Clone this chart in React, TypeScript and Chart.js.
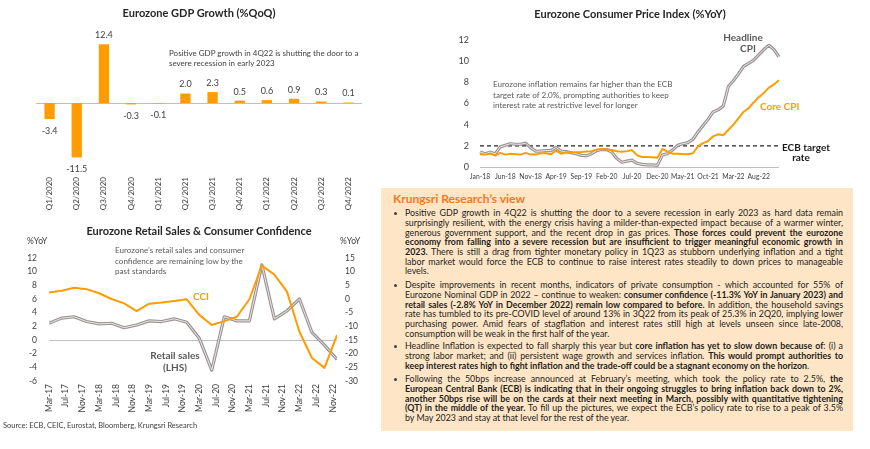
import React, { useEffect, useRef, useMemo } from 'react';
import { Chart, registerables } from 'chart.js';

Chart.register(...registerables);

const FONT = 'Lato, "Liberation Sans", sans-serif';
Chart.defaults.font.family = FONT;

const TXT = '#404040';
const DARK_GRAY = '#595959';
const ORANGE = '#ff9c00';
const GRAY_OUT = '#9b9393';
const GRAY_IN = '#ece8e8';
const AXIS_GRAY = '#bfbfbf';

// ---------------- GDP (%QoQ) ----------------
const gdpQuarters = ['Q1/2020', 'Q2/2020', 'Q3/2020', 'Q4/2020', 'Q1/2021', 'Q2/2021', 'Q3/2021', 'Q4/2021', 'Q1/2022', 'Q2/2022', 'Q3/2022', 'Q4/2022'];
const gdpGrowth = [-3.4, -11.5, 12.4, -0.3, -0.1, 2.0, 2.3, 0.5, 0.6, 0.9, 0.3, 0.1];

// ---------------- CPI (%YoY) ----------------
const monthNames = ['Jan', 'Feb', 'Mar', 'Apr', 'May', 'Jun', 'Jul', 'Aug', 'Sep', 'Oct', 'Nov', 'Dec'];
const cpiYears = ['18', '19', '20', '21', '22'];
const cpiMonths = cpiYears.flatMap((y) => monthNames.map((m) => `${m}-${y}`));
const cpiTickEvery = 5;
const headlineCpi = [
  1.42, 1.26, 1.4, 1.25, 1.9, 2.05, 2.2, 2.15, 2.15, 2.25,
  1.8, 1.5, 1.5, 1.55, 1.55, 1.85, 1.5, 1.45, 1.35, 1.25,
  1.1, 1.05, 1.25, 1.55, 1.65, 1.65, 1.4, 0.8, 0.45, 0.55,
  0.65, 0.35, 0.25, 0.2, 0.2, 0.15, 1.15, 1.25, 1.6, 2.05,
  2.2, 2.3, 2.6, 3.3, 3.9, 4.5, 5.2, 5.4, 5.75, 7.6,
  8.15, 8.8, 9.5, 9.8, 10.1, 10.6, 11.1, 11.5, 11.1, 10.4,
];
const coreCpi = [
  1.2, 1.17, 1.26, 1.07, 1.33, 1.17, 1.26, 1.2, 1.17, 1.33,
  1.17, 1.17, 1.3, 1.3, 1.2, 1.55, 1.25, 1.4, 1.36, 1.39,
  1.42, 1.47, 1.5, 1.64, 1.7, 1.66, 1.6, 1.48, 1.45, 1.5,
  1.6, 1.1, 0.95, 0.95, 0.92, 0.88, 1.7, 1.45, 1.26, 1.26,
  1.22, 1.2, 1.3, 1.95, 2.25, 2.45, 2.9, 3.1, 3.0, 3.5,
  4.0, 4.6, 5.2, 5.55, 6.1, 6.6, 7.0, 7.5, 7.8, 8.2,
];
const ecbTarget = 2;

// ---------------- Retail sales & CCI ----------------
const retailQuarters = ['Mar-17', 'Jun-17', 'Sep-17', 'Dec-17', 'Mar-18', 'Jun-18', 'Sep-18', 'Dec-18', 'Mar-19', 'Jun-19', 'Sep-19', 'Dec-19', 'Mar-20', 'Jun-20', 'Sep-20', 'Dec-20', 'Mar-21', 'Jun-21', 'Sep-21', 'Dec-21', 'Mar-22', 'Jun-22', 'Sep-22', 'Dec-22'];
const retailSales = [2.45, 3.2, 3.4, 2.7, 2.35, 2.45, 1.8, 2.2, 2.8, 2.7, 3.1, 2.6, 0.25, -4.4, 3.4, 2.8, 2.8, 11.0, 3.1, 4.25, 6.0, 1.1, -0.75, -2.85];
const consumerConfidence = [2.4, 3.0, 4.1, 3.6, 2.1, 0.0, -1.6, -4.4, -1.7, -1.3, -0.7, -0.1, -5.8, -9.5, -8.1, -6.5, -0.1, 12.2, 8.9, 2.7, -12.0, -21.6, -25.2, -13.2];
const retailTickLabels = ['Mar-17', 'Jul-17', 'Nov-17', 'Mar-18', 'Jul-18', 'Nov-18', 'Mar-19', 'Jul-19', 'Nov-19', 'Mar-20', 'Jul-20', 'Nov-20', 'Mar-21', 'Jul-21', 'Nov-21', 'Mar-22', 'Jul-22', 'Nov-22'];

const monthOffset = (label: string) => {
  const [m, y] = label.split('-');
  const [m0, y0] = retailQuarters[0].split('-');
  return (Number(y) - Number(y0)) * 12 + monthNames.indexOf(m) - monthNames.indexOf(m0);
};

// ---------------- Text panel ----------------
const viewParagraphs: string[][] = [
  [
    'Positive GDP growth in 4Q22 is shutting the door to a severe recession in early 2023 as hard data remain',
    'surprisingly resilient, with the energy crisis having a milder-than-expected impact because of a warmer winter,',
    'generous government support, and the recent drop in gas prices. **Those forces could prevent the eurozone**',
    '**economy from falling into a severe recession but are insufficient to trigger meaningful economic growth in**',
    '**2023.** There is still a drag from tighter monetary policy in 1Q23 as stubborn underlying inflation and a tight',
    'labor market would force the ECB to continue to raise interest rates steadily to down prices to manageable',
    'levels.',
  ],
  [
    'Despite improvements in recent months, indicators of private consumption - which accounted for 55% of',
    'Eurozone Nominal GDP in 2022 \u2013 continue to weaken: **consumer confidence (-11.3% YoY in January 2023) and**',
    '**retail sales (-2.8% YoY in December 2022) remain low compared to before.** In addition, the household savings',
    'rate has tumbled to its pre-COVID level of around 13% in 3Q22 from its peak of 25.3% in 2Q20, implying lower',
    'purchasing power. Amid fears of stagflation and interest rates still high at levels unseen since late-2008,',
    'consumption will be weak in the first half of the year.',
  ],
  [
    'Headline Inflation is expected to fall sharply this year but **core inflation has yet to slow down because of**: (i) a',
    'strong labor market; and (ii) persistent wage growth and services inflation. **This would prompt authorities to**',
    '**keep interest rates high to fight inflation and the trade-off could be a stagnant economy on the horizon**.',
  ],
  [
    'Following the 50bps increase announced at February\u2019s meeting, which took the policy rate to 2.5%, **the**',
    '**European Central Bank (ECB) is indicating that in their ongoing struggles to bring inflation back down to 2%,**',
    '**another 50bps rise will be on the cards at their next meeting in March, possibly with quantitative tightening**',
    '**(QT) in the middle of the year.** To fill up the pictures, we expect the ECB\u2019s policy rate to rise to a peak of 3.5%',
    'by May 2023 and stay at that level for the rest of the year.',
  ],
];
const paragraphTops = [213, 285, 346, 379];

const parseLine = (line: string) =>
  line.split('**').map((t, i) => ({ text: t, bold: i % 2 === 1 })).filter((s) => s.text.length > 0);

function fitFontSize(paragraphs: string[][], maxWidth: number) {
  const ctx = document.createElement('canvas').getContext('2d');
  if (!ctx) return 8;
  let max = 0;
  paragraphs.forEach((p) =>
    p.forEach((line) => {
      let w = 0;
      parseLine(line).forEach((s) => {
        ctx.font = `${s.bold ? 'bold ' : ''}10px ${FONT}`;
        w += ctx.measureText(s.text).width;
      });
      max = Math.max(max, w);
    })
  );
  return (10 * maxWidth) / max;
}

// ---------------- plugins ----------------
const zeroLine = (axisId: string) => ({
  id: 'zeroLine_' + axisId,
  beforeDatasetsDraw(chart: any) {
    const { ctx, chartArea } = chart;
    const y = Math.round(chart.scales[axisId].getPixelForValue(0)) + 0.5;
    ctx.save();
    ctx.strokeStyle = AXIS_GRAY;
    ctx.lineWidth = 1;
    ctx.beginPath();
    ctx.moveTo(chartArea.left, y);
    ctx.lineTo(chartArea.right, y);
    ctx.stroke();
    ctx.restore();
  },
});

const ecbLine = {
  id: 'ecbLine',
  beforeDatasetsDraw(chart: any) {
    const { ctx, chartArea } = chart;
    const y = chart.scales.y.getPixelForValue(ecbTarget);
    ctx.save();
    ctx.strokeStyle = '#262626';
    ctx.lineWidth = 1.2;
    ctx.setLineDash([4, 3]);
    ctx.beginPath();
    ctx.moveTo(chartArea.left, y);
    ctx.lineTo(chartArea.right, y);
    ctx.stroke();
    ctx.restore();
  },
};

const barValueLabels = {
  id: 'barValueLabels',
  afterDatasetsDraw(chart: any) {
    const { ctx } = chart;
    const meta = chart.getDatasetMeta(0);
    const data = chart.data.datasets[0].data as number[];
    ctx.save();
    ctx.font = `9px ${FONT}`;
    ctx.fillStyle = TXT;
    ctx.textAlign = 'center';
    ctx.textBaseline = 'middle';
    meta.data.forEach((el: any, i: number) => {
      const v = data[i];
      const y = v >= 0 ? el.y - 9 : el.y + 12;
      ctx.fillText(v.toFixed(1), el.x, y);
    });
    ctx.restore();
  },
};

const noGrid = { display: false, drawTicks: false };
const noBorder = { display: false };

// ---------------- chart configs ----------------
function buildGdp(): any {
  return {
    type: 'bar',
    data: {
      labels: gdpQuarters,
      datasets: [{ data: gdpGrowth, backgroundColor: ORANGE, barPercentage: 0.38, categoryPercentage: 1 }],
    },
    options: {
      responsive: false,
      animation: false,
      layout: { padding: { left: 36, right: 18, top: 32, bottom: 0 } },
      plugins: { legend: { display: false }, tooltip: { enabled: false } },
      scales: {
        x: {
          grid: noGrid,
          border: noBorder,
          ticks: { color: TXT, font: { size: 8 }, minRotation: 90, maxRotation: 90, padding: 3, autoSkip: false },
          afterFit: (s: any) => { s.height = 40; },
        },
        y: { display: false, min: -15, max: 15 },
      },
    },
    plugins: [zeroLine('y'), barValueLabels],
  };
}

function buildCpi(): any {
  return {
    type: 'line',
    data: {
      labels: cpiMonths,
      datasets: [
        { data: coreCpi, borderColor: ORANGE, borderWidth: 2, pointRadius: 0, borderJoinStyle: 'round' },
        { data: headlineCpi, borderColor: GRAY_IN, borderWidth: 1, pointRadius: 0, borderJoinStyle: 'round' },
        { data: headlineCpi, borderColor: GRAY_OUT, borderWidth: 3.2, pointRadius: 0, borderJoinStyle: 'round' },
      ],
    },
    options: {
      responsive: false,
      animation: false,
      layout: { padding: { left: 0, right: 91, top: 40, bottom: 0 } },
      plugins: { legend: { display: false }, tooltip: { enabled: false } },
      scales: {
        x: {
          grid: noGrid,
          border: noBorder,
          ticks: {
            color: TXT, font: { size: 6.8 }, minRotation: 0, maxRotation: 0, autoSkip: false, padding: 6,
            callback: (_v: any, i: number) => (i % cpiTickEvery === 0 ? cpiMonths[i] : null),
          },
          afterFit: (s: any) => { s.height = 23; },
        },
        y: {
          min: 0, max: 12,
          grid: noGrid,
          border: noBorder,
          ticks: { stepSize: 2, color: TXT, font: { size: 9 }, padding: 11 },
          afterFit: (s: any) => { s.width = 100; },
        },
      },
    },
    plugins: [zeroLine('y'), ecbLine],
  };
}

function buildRetail(): any {
  const retailPoints = retailQuarters.map((q, i) => ({ x: monthOffset(q), y: retailSales[i] }));
  const cciPoints = retailQuarters.map((q, i) => ({ x: monthOffset(q), y: consumerConfidence[i] }));
  return {
    type: 'line',
    data: {
      datasets: [
        { data: cciPoints, borderColor: ORANGE, borderWidth: 2, pointRadius: 0, yAxisID: 'y1', borderJoinStyle: 'round' },
        { data: retailPoints, borderColor: GRAY_IN, borderWidth: 1, pointRadius: 0, yAxisID: 'y', borderJoinStyle: 'round' },
        { data: retailPoints, borderColor: GRAY_OUT, borderWidth: 3.2, pointRadius: 0, yAxisID: 'y', borderJoinStyle: 'round' },
      ],
    },
    options: {
      responsive: false,
      animation: false,
      layout: { padding: { left: 0, right: 0, top: 53, bottom: 0 } },
      plugins: { legend: { display: false }, tooltip: { enabled: false } },
      scales: {
        x: {
          type: 'linear',
          min: 0,
          max: monthOffset(retailQuarters[retailQuarters.length - 1]),
          grid: noGrid,
          border: noBorder,
          ticks: {
            stepSize: 4, includeBounds: false, autoSkip: false, minRotation: 90, maxRotation: 90, padding: 3,
            color: TXT, font: { size: 8.5 },
            callback: (v: number) => retailTickLabels[v / 4] ?? null,
          },
          afterFit: (s: any) => { s.height = 44; },
        },
        y: {
          position: 'left', min: -6, max: 12,
          grid: noGrid, border: noBorder,
          ticks: { stepSize: 2, color: TXT, font: { size: 8.5 }, padding: 12 },
          afterFit: (s: any) => { s.width = 49; },
        },
        y1: {
          position: 'right', min: -30, max: 15,
          grid: noGrid, border: noBorder,
          ticks: { stepSize: 5, color: TXT, font: { size: 8.5 }, padding: 8 },
          afterFit: (s: any) => { s.width = 43; },
        },
      },
    },
    plugins: [zeroLine('y')],
  };
}

// ---------------- components ----------------
function ChartCanvas({ left, top, width, height, build }: { left: number; top: number; width: number; height: number; build: () => any }) {
  const ref = useRef<HTMLCanvasElement>(null);
  useEffect(() => {
    const chart = new Chart(ref.current as HTMLCanvasElement, build());
    return () => chart.destroy();
  }, []);
  return <canvas ref={ref} width={width} height={height} style={{ position: 'absolute', left, top, width, height }} />;
}

function Txt({ x, y, children, size = 9, bold = false, color = TXT, center = false }: any) {
  return (
    <div
      style={{
        position: 'absolute', left: x, top: y,
        transform: center ? 'translate(-50%, -50%)' : 'translateY(-50%)',
        fontSize: size, fontWeight: bold ? 700 : 400, color, whiteSpace: 'nowrap', lineHeight: 1,
      }}
    >
      {children}
    </div>
  );
}

export default function App() {
  const bodySize = useMemo(() => fitFontSize(viewParagraphs, 432), []);
  const LH = 9.7;
  return (
    <div style={{ position: 'fixed', left: 0, top: 0, width: 870, height: 449, background: '#fff', overflow: 'hidden', fontFamily: FONT }}>
      {/* text panel */}
      <div style={{ position: 'absolute', left: 381, top: 188, width: 472, height: 243, background: '#fde5c5' }} />
      <Txt x={393} y={199} size={12} bold color="#f47920">Krungsri Research’s view</Txt>
      {viewParagraphs.map((p, pi) => (
        <React.Fragment key={pi}>
          <div style={{ position: 'absolute', left: 393.5, top: paragraphTops[pi] - 1.5, width: 3, height: 3, borderRadius: 2, background: '#404040' }} />
          <div style={{ position: 'absolute', left: 405, top: paragraphTops[pi] - LH / 2, width: 438, color: '#1e1e1e', fontSize: bodySize }}>
            {p.map((line, li) => (
              <div
                key={li}
                style={{
                  height: LH, lineHeight: `${LH}px`, textAlign: 'justify',
                  textAlignLast: li === p.length - 1 ? 'left' : 'justify', whiteSpace: 'normal',
                } as any}
              >
                {parseLine(line).map((s, si) => (
                  <span key={si} style={{ fontWeight: s.bold ? 700 : 400 }}>{s.text}</span>
                ))}
              </div>
            ))}
          </div>
        </React.Fragment>
      ))}

      <ChartCanvas left={0} top={0} width={380} height={214} build={buildGdp} />
      <ChartCanvas left={380} top={0} width={490} height={190} build={buildCpi} />
      <ChartCanvas left={0} top={205} width={380} height={220} build={buildRetail} />

      {/* GDP texts */}
      <Txt x={199} y={12} size={11} bold color="#262626" center>Eurozone GDP Growth (%QoQ)</Txt>
      <Txt x={169} y={53} size={8}>Positive GDP growth in 4Q22 is shutting the door to a</Txt>
      <Txt x={169} y={63} size={8}>severe recession in early 2023</Txt>

      {/* CPI texts */}
      <Txt x={630} y={13} size={11} bold color="#262626" center>Eurozone Consumer Price Index (%YoY)</Txt>
      <Txt x={743} y={37} size={10} bold color={DARK_GRAY} center>Headline</Txt>
      <Txt x={748} y={48} size={10} bold color={DARK_GRAY} center>CPI</Txt>
      <Txt x={760} y={106} size={10} bold color={ORANGE}>Core CPI</Txt>
      <Txt x={782} y={147} size={10} bold color="#1a1a1a">ECB target</Txt>
      <Txt x={801} y={157} size={10} bold color="#1a1a1a" center>rate</Txt>
      <Txt x={493} y={84} size={8.1} color={DARK_GRAY}>Eurozone inflation remains far higher than the ECB</Txt>
      <Txt x={493} y={95} size={8.1} color={DARK_GRAY}>target rate of 2.0%, prompting authorities to keep</Txt>
      <Txt x={493} y={105} size={8.1} color={DARK_GRAY}>interest rate at restrictive level for longer</Txt>

      {/* Retail texts */}
      <Txt x={199} y={230} size={11} bold color="#262626" center>Eurozone Retail Sales &amp; Consumer Confidence</Txt>
      <Txt x={27} y={241} size={8.5}>%YoY</Txt>
      <Txt x={340} y={241} size={8.5}>%YoY</Txt>
      <Txt x={115} y={250} size={8.1} color={DARK_GRAY}>Eurozone’s retail sales and consumer</Txt>
      <Txt x={115} y={261} size={8.1} color={DARK_GRAY}>confidence are remaining low by the</Txt>
      <Txt x={115} y={271} size={8.1} color={DARK_GRAY}>past standards</Txt>
      <Txt x={193} y={296} size={10} bold color={ORANGE}>CCI</Txt>
      <Txt x={175} y={355} size={10} bold color={DARK_GRAY} center>Retail sales</Txt>
      <Txt x={175} y={367} size={10} bold color={DARK_GRAY} center>(LHS)</Txt>
      <Txt x={3} y={426} size={7.5}>Source: ECB, CEIC, Eurostat, Bloomberg, Krungsri Research</Txt>
    </div>
  );
}
